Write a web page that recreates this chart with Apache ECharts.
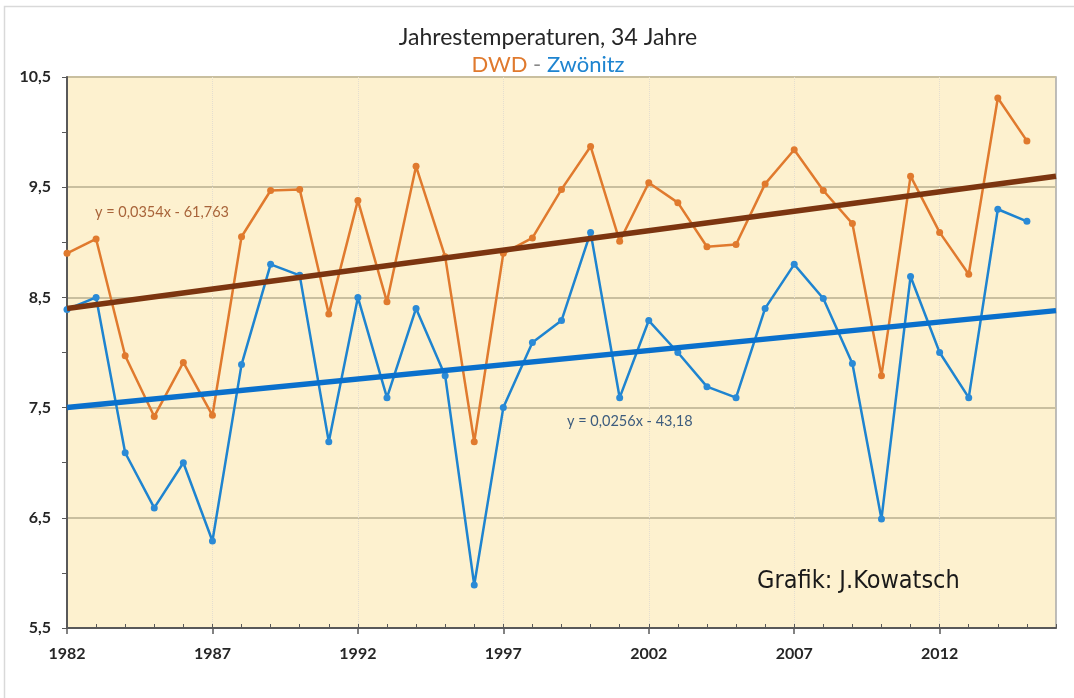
<!doctype html>
<html>
    <head>
        <meta charset="utf-8">
        <title>Jahrestemperaturen</title>
        <style>
            html, body { margin: 0; padding: 0; background: #fff; }
            #main { width: 1074px; height: 698px; }
        </style>
    </head>
    <body>
        <div id="main"></div>
        <script src="https://cdn.jsdelivr.net/npm/echarts@6/dist/echarts.min.js"></script>
        <script>
            // x axis: one category per year, 1982..2016
            var years = ['1982', '1983', '1984', '1985', '1986', '1987', '1988', '1989', '1990', '1991',
                '1992', '1993', '1994', '1995', '1996', '1997', '1998', '1999', '2000', '2001',
                '2002', '2003', '2004', '2005', '2006', '2007', '2008', '2009', '2010', '2011',
                '2012', '2013', '2014', '2015', '2016'];

            // annual mean temperature, DWD (orange)
            var dwd = [8.9, 9.03, 7.97, 7.42, 7.91, 7.43, 9.05, 9.47, 9.48, 8.35,
                9.38, 8.46, 9.69, 8.87, 7.19, 8.9, 9.04, 9.48, 9.87, 9.01,
                9.54, 9.36, 8.96, 8.98, 9.53, 9.84, 9.47, 9.17, 7.79, 9.6,
                9.09, 8.71, 10.31, 9.92];

            // annual mean temperature, Zwönitz (blue)
            var zwoenitz = [8.39, 8.5, 7.09, 6.59, 7.0, 6.29, 7.89, 8.8, 8.7, 7.19,
                8.5, 7.59, 8.4, 7.79, 5.89, 7.5, 8.09, 8.29, 9.09, 7.59,
                8.29, 8.0, 7.69, 7.59, 8.4, 8.8, 8.49, 7.9, 6.49, 8.69,
                8.0, 7.59, 9.3, 9.19];

            // linear trend lines, end points at 1982 and 2016
            var dwdTrend = [['1982', 8.40], ['2016', 9.60]];
            var zwoenitzTrend = [['1982', 7.50], ['2016', 8.38]];

            var chart = echarts.init(document.getElementById('main'));

            var axisFont = {
                color: '#262626',
                fontFamily: 'Lato, "Open Sans", sans-serif',
                fontWeight: 'bold',
                fontSize: 16
            };

            chart.setOption({
                backgroundColor: '#fff',
                animation: false,
                title: {
                    text: 'Jahrestemperaturen, 34 Jahre',
                    subtext: '{o|DWD} {g|-} {b|Zwönitz}',
                    left: 543,
                    textAlign: 'center',
                    top: 21,
                    itemGap: 5,
                    textStyle: {
                        color: '#262626',
                        fontFamily: 'Lato, sans-serif',
                        fontWeight: 'normal',
                        fontSize: 23
                    },
                    subtextStyle: {
                        fontFamily: 'Lato, sans-serif',
                        fontSize: 22,
                        rich: {
                            o: { color: '#e07a2e', fontSize: 22, fontFamily: 'Lato, sans-serif' },
                            g: { color: '#888', fontSize: 22, fontFamily: 'Lato, sans-serif' },
                            b: { color: '#1e84d0', fontSize: 22, fontFamily: 'Lato, sans-serif' }
                        }
                    }
                },
                grid: {
                    left: 67,
                    right: 18,
                    top: 77,
                    bottom: 70,
                    show: true,
                    backgroundColor: '#fdf1cf',
                    borderColor: '#a9a9a9',
                    borderWidth: 1.5
                },
                xAxis: [{
                    type: 'category',
                    data: years,
                    boundaryGap: false,
                    axisLine: { lineStyle: { color: '#595959', width: 2 } },
                    axisTick: { inside: true, length: 4, interval: 0, lineStyle: { color: '#595959' } },
                    axisLabel: Object.assign({ interval: 4, margin: 18 }, axisFont),
                    splitLine: {
                        show: true,
                        interval: 4,
                        lineStyle: { color: '#e4ded0', type: 'dotted', width: 1 }
                    }
                }, {
                    type: 'category',
                    data: years,
                    boundaryGap: false,
                    position: 'bottom',
                    axisLine: { show: false },
                    axisTick: { inside: false, length: 6, interval: 4, lineStyle: { color: '#595959', width: 1.5 } },
                    axisLabel: { show: false },
                    splitLine: { show: false }
                }],
                yAxis: {
                    type: 'value',
                    min: 5.5,
                    max: 10.5,
                    interval: 0.5,
                    axisLine: { show: true, lineStyle: { color: '#595959', width: 2 } },
                    axisTick: { show: true, length: 5, lineStyle: { color: '#595959' } },
                    axisLabel: Object.assign({
                        margin: 16,
                        formatter: function (v) {
                            if (Math.abs(v - Math.round(v)) < 1e-6) {
                                return '';
                            }
                            return v.toFixed(1).replace('.', ',');
                        }
                    }, axisFont),
                    splitLine: {
                        show: true,
                        lineStyle: { color: ['#c9bf9f', 'rgba(0,0,0,0)'], width: 2 }
                    }
                },
                series: [{
                    name: 'DWD',
                    type: 'line',
                    data: dwd,
                    symbol: 'circle',
                    symbolSize: 7,
                    itemStyle: { color: '#e07a2e' },
                    lineStyle: { color: '#e07a2e', width: 2.5 },
                    z: 3
                }, {
                    name: 'Zwönitz',
                    type: 'line',
                    data: zwoenitz,
                    symbol: 'circle',
                    symbolSize: 7,
                    itemStyle: { color: '#2a8ad6' },
                    lineStyle: { color: '#1e84d0', width: 2.5 },
                    z: 3
                }, {
                    name: 'Trend DWD',
                    type: 'line',
                    data: dwdTrend,
                    symbol: 'none',
                    lineStyle: { color: '#7c3510', width: 5.5 },
                    z: 4
                }, {
                    name: 'Trend Zwönitz',
                    type: 'line',
                    data: zwoenitzTrend,
                    symbol: 'none',
                    lineStyle: { color: '#0a70cc', width: 5.5 },
                    z: 4
                }],
                graphic: [{
                    type: 'rect',
                    silent: true,
                    shape: { x: 4.5, y: 6.5, width: 1200, height: 1000 },
                    style: { fill: 'none', stroke: '#d9d9d9', lineWidth: 1.5 }
                }, {
                    type: 'text',
                    left: 95,
                    top: 205,
                    z: 10,
                    style: {
                        text: 'y = 0,0354x - 61,763',
                        fill: '#a8643a',
                        font: '14.5px Lato, sans-serif'
                    }
                }, {
                    type: 'text',
                    left: 567,
                    top: 414,
                    z: 10,
                    style: {
                        text: 'y = 0,0256x - 43,18',
                        fill: '#3d5c7e',
                        font: '14.5px Lato, sans-serif'
                    }
                }, {
                    type: 'text',
                    left: 757,
                    top: 569,
                    z: 10,
                    style: {
                        text: 'Grafik: J.Kowatsch',
                        fill: '#1a1a1a',
                        font: '25px "Liberation Sans Narrow", "Arial Narrow", "DejaVu Sans Condensed", sans-serif'
                    }
                }]
            });

            window.addEventListener('resize', function () {
                chart.resize();
            });
        </script>
    </body>
</html>
